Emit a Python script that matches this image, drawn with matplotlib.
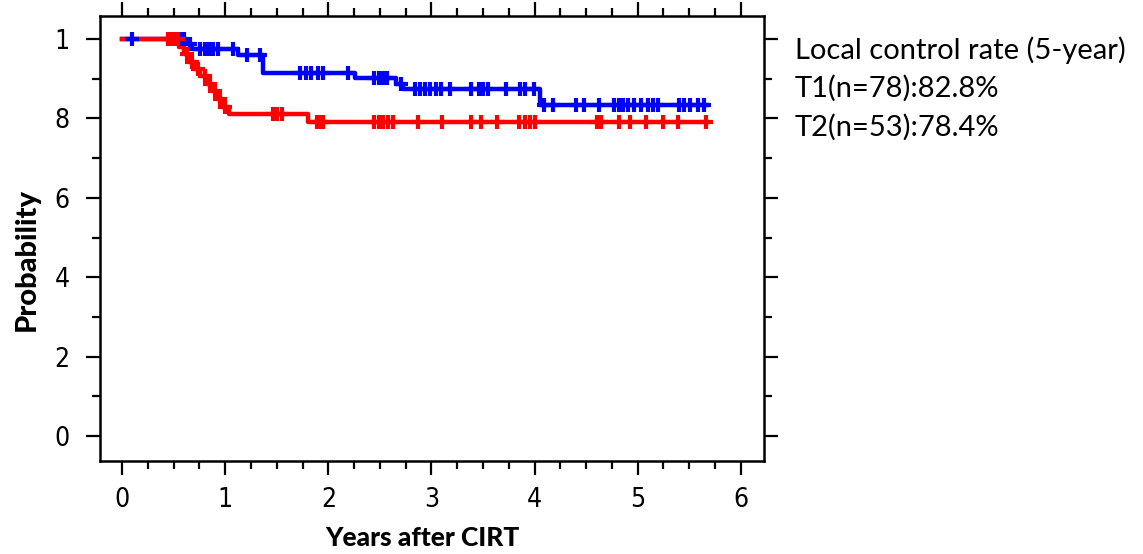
import numpy as np
import matplotlib
matplotlib.use('Agg')
import matplotlib.pyplot as plt
from matplotlib.ticker import MultipleLocator

# ---- data ----
# T1 (blue): event times and survival level after each step
t1_times = [0.0, 0.62, 0.68, 1.12, 1.37, 2.26, 2.66, 2.72, 4.05, 5.67]
t1_surv = [1.0, 0.987, 0.974, 0.961, 0.915, 0.902, 0.888, 0.875, 0.835, 0.835]
t1_cens = [0.10, 0.56, 0.60, 0.66, 0.76, 0.80, 0.84, 0.88, 0.93, 1.08, 1.21, 1.34,
           1.73, 1.78, 1.83, 1.90, 1.95, 2.19, 2.44, 2.49, 2.53, 2.57,
           2.70, 2.84, 2.89, 2.94, 2.99, 3.04, 3.09, 3.18, 3.38, 3.46, 3.50, 3.55,
           3.72, 3.86, 3.91, 3.99, 4.09, 4.18, 4.40, 4.48, 4.62, 4.77, 4.82, 4.86,
           4.91, 4.96, 5.03, 5.10, 5.15, 5.20, 5.40, 5.45, 5.51, 5.58, 5.64]

# T2 (red)
t2_times = [0.0, 0.55, 0.60, 0.65, 0.70, 0.76, 0.82, 0.87, 0.92, 0.97, 1.04, 1.80, 5.67]
t2_surv = [1.0, 0.981, 0.962, 0.943, 0.925, 0.906, 0.887, 0.868, 0.849, 0.830, 0.811, 0.791, 0.791]
t2_cens = [0.45, 0.48, 0.50, 0.52, 0.54, 0.63, 0.68, 0.74, 0.80, 0.85, 0.90, 0.95, 1.00,
           1.46, 1.50, 1.55, 1.89, 1.92, 1.95, 2.44, 2.49, 2.53, 2.58, 2.63,
           2.87, 3.10, 3.38, 3.48, 3.64, 3.85, 3.91, 3.96, 4.00,
           4.61, 4.64, 4.82, 4.93, 5.08, 5.25, 5.39, 5.66]

ytick_vals = [0, 0.2, 0.4, 0.6, 0.8, 1.0]
ytick_labels = ['0', '2', '4', '6', '8', '1']
xtick_vals = [0, 1, 2, 3, 4, 5, 6]

legend_lines = ['Local control rate (5-year)', 'T1(n=78):82.8%', 'T2(n=53):78.4%']


def level_at(times, surv, t):
    # survival level at time t from the step function
    idx = np.searchsorted(times, t, side='right') - 1
    return np.asarray(surv)[idx]


fig = plt.figure(figsize=(11.43, 5.54), dpi=100)
ax = fig.add_axes([0.0875, 0.168, 0.5805, 0.803])

for times, surv, cens, col in [(t1_times, t1_surv, t1_cens, (0, 0, 1)),
                               (t2_times, t2_surv, t2_cens, (1, 0, 0))]:
    ax.step(times, surv, where='post', color=col, lw=3.2, zorder=3)
    ax.plot(cens, level_at(times, surv, cens), ls='none', marker='+',
            ms=9.5, mew=3, color=col, zorder=4)

ax.set_xlim(-0.214, 6.22)
ax.set_ylim(-0.063, 1.058)
ax.set_xticks(xtick_vals)
ax.set_yticks(ytick_vals)
ax.set_yticklabels(ytick_labels)
ax.xaxis.set_minor_locator(MultipleLocator(0.25))
ax.yaxis.set_minor_locator(MultipleLocator(0.1))

ax.tick_params(which='both', direction='out', top=True, right=True,
               labeltop=False, labelright=False, width=1.6)
ax.tick_params(which='major', length=10)
ax.tick_params(which='minor', length=6)
ax.tick_params(axis='y', pad=12)
ax.tick_params(axis='x', pad=9)
for lab in ax.get_xticklabels() + ax.get_yticklabels():
    lab.set_fontfamily(['Liberation Sans Narrow', 'DejaVu Sans'])
    lab.set_fontstretch('condensed')
    lab.set_fontsize(19)
for sp in ax.spines.values():
    sp.set_linewidth(1.8)

lab_font = ['Lato', 'DejaVu Sans']
ax.set_xlabel('Years after CIRT', fontsize=19, fontweight='black', family=lab_font)
ax.set_ylabel('Probability', fontsize=21, fontweight='black', family=lab_font)
ax.xaxis.set_label_coords(0.486, -0.173)
ax.yaxis.set_label_coords(-0.110, 0.452)
ax.xaxis.label.set_va('center')
ax.yaxis.label.set_va('center')

ys = [0.910, 0.841, 0.771]
for txt, y in zip(legend_lines, ys):
    fig.text(0.6955, y, txt, fontsize=21, family=lab_font, va='center', ha='left')

fig.savefig('out.png', dpi=100)
